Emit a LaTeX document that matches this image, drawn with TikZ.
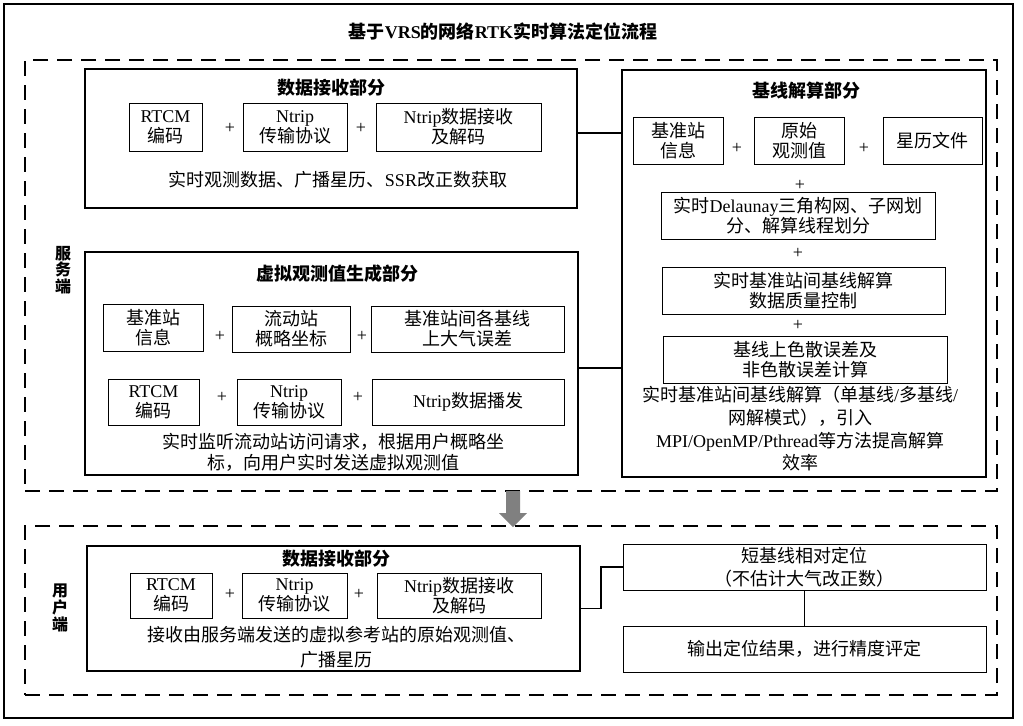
\documentclass[tikz,border=0pt]{standalone}
\usepackage{fontspec}
\setmainfont{Liberation Serif}
\newfontfamily\cjk{Noto Sans CJK SC}
% switch to the CJK family for CJK characters
\XeTeXinterchartokenstate=1
\newXeTeXintercharclass\cjkclass
\makeatletter
\count@="3000
\loop\ifnum\count@<"A000 \XeTeXcharclass\count@=\cjkclass \advance\count@ by 1 \repeat
\count@="FF00
\loop\ifnum\count@<"FFF0 \XeTeXcharclass\count@=\cjkclass \advance\count@ by 1 \repeat
\makeatother
\XeTeXinterchartoks 0 \cjkclass = {\cjk}
\XeTeXinterchartoks 4095 \cjkclass = {\cjk}
\XeTeXinterchartoks \cjkclass 0 = {\rmfamily}
\XeTeXinterchartoks \cjkclass 4095 = {\rmfamily}
\definecolor{arrowgray}{RGB}{128,128,128}
\tikzset{
    txt/.style={font=\fontsize{13.5}{15}\selectfont, align=center, inner sep=0pt},
    hd/.style={txt, font=\fontsize{13.5}{15}\selectfont\bfseries},
    side/.style={txt, font=\fontsize{12}{11.25}\selectfont\bfseries},
    sz/.style 2 args={minimum width=#1*0.75pt, minimum height=#2*0.75pt},
    frame/.style={draw, line width=1pt, inner sep=0pt},
    unit/.style={txt, draw, line width=0.75pt},
    region/.style={draw, line width=1.5pt, dash pattern=on 11.25pt off 6.75pt, inner sep=0pt},
    link/.style={draw, line width=1pt}
}

\begin{document}
\begin{tikzpicture}[x=0.75pt, y=-0.75pt]
    \useasboundingbox (0,0) rectangle (1023,725);

    % Outer frame and title
    \node[draw, line width=1.6pt, sz={1009}{714}] (all) at (508.5,361) {};
    \node[hd] (title) at (503,31) {基于VRS的网络RTK实时算法定位流程};

    % Server side
    \node[region, sz={972}{431}] (server) at (511,275.5) {};
    \node[side] (slabel) at (63,270) {服\\务\\端};

    % Data receiving part
    \node[frame, sz={492}{139}] (recv) at (331,138.5) {};
    \node[hd] (recvt) at (331,88) {数据接收部分};
    \node[unit, sz={73}{48}] (rtcm) at (165.5,127) {RTCM\\编码};
    \node[txt] (p1) at (230,128) {+};
    \node[unit, sz={104}{48}] (ntrip) at (295,127) {Ntrip\\传输协议};
    \node[txt] (p2) at (361,128) {+};
    \node[unit, sz={165}{48}] (recvd) at (458.5,127) {Ntrip数据接收\\及解码};
    \node[txt] (recvc) at (338,180) {实时观测数据、广播星历、SSR改正数获取};

    % Baseline solution part
    \node[frame, sz={364}{407}] (base) at (804,273.5) {};
    \node[hd] (baset) at (806,91) {基线解算部分};
    \node[unit, sz={90}{47}] (bsta) at (678,140.5) {基准站\\信息};
    \node[txt] (p3) at (737,148) {+};
    \node[unit, sz={90}{47}] (bobs) at (799,140.5) {原始\\观测值};
    \node[txt] (p4) at (864,148) {+};
    \node[unit, sz={99}{47}] (beph) at (932.5,140.5) {星历文件};
    \node[txt] (p5) at (800,185) {+};
    \node[unit, sz={274}{47}] (bnet) at (798,215.5) {实时Delaunay三角构网、子网划\\分、解算线程划分};
    \node[txt] (p6) at (798,253) {+};
    \node[unit, sz={283}{47}] (bqc) at (803.5,290.5) {实时基准站间基线解算\\数据质量控制};
    \node[txt] (p7) at (798,325) {+};
    \node[unit, sz={284}{47}] (berr) at (805,359.5) {基线上色散误差及\\非色散误差计算};
    \node[txt, font=\fontsize{13.5}{17}\selectfont] (basec) at (800,429) {实时基准站间基线解算（单基线/多基线/\\网解模式），引入\\MPI/OpenMP/Pthread等方法提高解算\\效率};

    % Virtual observation part
    \node[frame, sz={493}{223}] (virt) at (331.5,363.5) {};
    \node[hd] (virtt) at (337,274) {虚拟观测值生成部分};
    \node[unit, sz={100}{47}] (vsta) at (153,327.5) {基准站\\信息};
    \node[txt] (p8) at (220,336) {+};
    \node[unit, sz={118}{46}] (vrov) at (291,329) {流动站\\概略坐标};
    \node[txt] (p9) at (362,336) {+};
    \node[unit, sz={193}{46}] (vatm) at (467.5,329) {基准站间各基线\\上大气误差};
    \node[unit, sz={91}{46}] (vrtcm) at (153.5,402) {RTCM\\编码};
    \node[txt] (p10) at (222,397) {+};
    \node[unit, sz={104}{46}] (vntrip) at (289,402) {Ntrip\\传输协议};
    \node[txt] (p11) at (358,397) {+};
    \node[unit, sz={192}{46}] (vcast) at (468,402) {Ntrip数据播发};
    \node[txt, font=\fontsize{13.5}{15.75}\selectfont] (virtc) at (333,452.5) {实时监听流动站访问请求，根据用户概略坐\\标，向用户实时发送虚拟观测值};

    % Connectors on server side
    \coordinate (j1) at (600,133);
    \coordinate (j2) at (600,368);
    \draw[link] (recv.east |- j1) -- (base.west |- j1);
    \draw[link] (virt.east |- j2) -- (base.west |- j2);

    % Arrow down to user side
    \fill[arrowgray] (506,491) -- (520,491) -- (520,513) -- (527,513) -- (513,527)
        -- (499,513) -- (506,513) -- cycle;

    % User side
    \node[region, sz={972}{169}] (user) at (511,610.5) {};
    \node[side] (ulabel) at (60,608) {用\\户\\端};
    \node[frame, sz={493}{125}] (urecv) at (333.5,608.5) {};
    \node[hd] (urecvt) at (336,559) {数据接收部分};
    \node[unit, sz={82}{45}] (urtcm) at (171,595.5) {RTCM\\编码};
    \node[txt] (p12) at (230,594) {+};
    \node[unit, sz={105}{45}] (untrip) at (294.5,595.5) {Ntrip\\传输协议};
    \node[txt] (p13) at (359,594) {+};
    \node[unit, sz={164}{45}] (urecvd) at (459,595.5) {Ntrip数据接收\\及解码};
    \node[txt, font=\fontsize{13.5}{18.75}\selectfont] (urecvc) at (336,647) {接收由服务端发送的虚拟参考站的原始观测值、\\广播星历};
    \node[unit, sz={363}{46}, font=\fontsize{13.5}{17}\selectfont] (short) at (804.5,567) {短基线相对定位\\（不估计大气改正数）};
    \node[unit, sz={363}{46}] (out) at (804.5,649) {输出定位结果，进行精度评定};

    % Connectors on user side
    \coordinate (j3) at (601,590);
    \draw[link] (urecv.east) -| (j3) |- (short.west);
    \draw[link] (short.south) -- (out.north);

\end{tikzpicture}
\end{document}
